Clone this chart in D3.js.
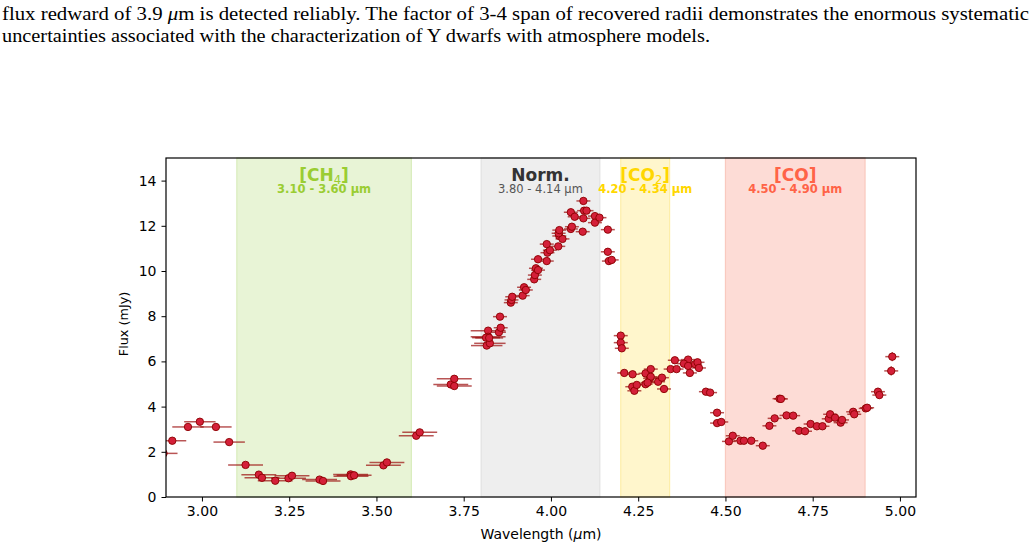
<!DOCTYPE html>
<html><head><meta charset="utf-8">
<script src="https://cdn.jsdelivr.net/npm/d3@7"></script>
<style>body{margin:0;background:#fff}svg{display:block}</style>
</head><body>
<script>
// ---- data ----
const wavelength = [2.89,2.915,2.96,2.994,3.04,3.078,3.125,3.163,3.172,3.21,3.248,3.258,3.337,3.347,3.426,3.427,3.436,3.52,3.53,3.614,3.624,
3.713,3.723,3.723,3.816,3.82,3.82,3.825,3.814,3.823,3.851,3.856,3.854,3.885,3.887,3.889,3.919,3.923,3.928,3.952,3.954,3.957,3.963,3.963,3.988,3.99,3.997,3.988,4.021,4.024,4.033,4.022,4.024,4.057,4.06,4.057,4.068,4.091,4.093,4.093,4.095,4.102,4.126,4.126,4.139,4.163,4.163,4.166,4.174,
4.2,4.2,4.203,4.21,4.234,4.233,4.239,4.246,4.271,4.286,4.284,4.286,4.271,4.277,4.307,4.318,4.324,4.343,4.36,4.355,4.393,4.381,4.393,4.398,4.413,4.42,4.424,4.444,4.456,4.476,4.476,4.488,
4.51,4.521,4.543,4.553,4.574,4.607,4.626,4.641,4.655,4.659,4.675,4.694,4.711,4.728,4.744,4.762,4.778,4.796,4.8,4.814,4.83,4.834,4.866,4.869,4.902,4.906,4.937,4.941,4.978,4.975];
const flux = [1.93,2.49,3.1,3.33,3.1,2.43,1.42,0.99,0.85,0.72,0.83,0.94,0.77,0.71,1.0,0.92,0.96,1.40,1.53,2.71,2.86,
4.98,4.91,5.23,6.7,7.36,7.09,6.8,7.05,7.04,7.29,7.49,7.98,8.6,8.72,8.86,8.91,9.28,9.16,9.63,9.82,10.12,10.04,10.52,10.44,10.81,10.92,11.19,11.09,11.55,11.42,11.67,11.81,11.86,11.96,12.6,12.4,11.74,12.33,13.1,12.67,12.67,12.43,12.14,12.36,11.83,10.85,10.44,10.49,
7.14,6.83,6.58,5.49,5.43,4.88,4.70,4.96,5.47,5.66,5.25,5.32,4.99,5.06,5.10,5.28,4.78,5.66,5.66,6.05,6.08,5.90,5.80,5.49,5.88,5.96,5.71,4.66,4.62,3.73,3.27,3.32,
2.46,2.71,2.49,2.49,2.49,2.27,3.15,3.48,4.35,4.34,3.61,3.6,2.93,2.91,3.23,3.13,3.13,3.46,3.66,3.51,3.29,3.41,3.77,3.66,3.92,3.95,4.66,4.51,6.21,5.58];
const xErr = [0.04,0.04,0.045,0.045,0.045,0.045,0.05,0.05,0.05,0.05,0.05,0.05,0.05,0.05,0.05,0.05,0.05,0.05,0.05,0.05,0.05,
0.05,0.05,0.05,0.045,0.05,0.05,0.045,0.04,0.04,0.02,0.02,0.02,0.02,0.02,0.02,0.02,0.02,0.02,0.02,0.02,0.02,0.02,0.02,0.02,0.02,0.02,0.02,0.02,0.02,0.02,0.02,0.02,0.02,0.02,0.02,0.02,0.02,0.02,0.02,0.02,0.02,0.02,0.02,0.02,0.02,0.02,0.02,0.02,
0.02,0.02,0.02,0.02,0.02,0.02,0.02,0.02,0.02,0.02,0.02,0.02,0.02,0.02,0.02,0.02,0.02,0.02,0.02,0.02,0.02,0.02,0.02,0.02,0.02,0.02,0.02,0.02,0.02,0.02,0.02,0.02,
0.02,0.02,0.02,0.02,0.02,0.02,0.02,0.02,0.02,0.02,0.02,0.02,0.02,0.02,0.02,0.02,0.02,0.02,0.02,0.02,0.02,0.02,0.02,0.02,0.02,0.02,0.02,0.02,0.02,0.02];
const yErr = [0.03,0.03,0.03,0.03,0.03,0.03,0.03,0.05,0.05,0.05,0.05,0.05,0.05,0.05,0.05,0.05,0.05,0.05,0.05,0.05,0.05,
0.05,0.05,0.05,0.1,0.1,0.1,0.1,0.1,0.1,0.15,0.15,0.15,0.15,0.15,0.15,0.15,0.15,0.15,0.15,0.15,0.15,0.15,0.15,0.15,0.15,0.15,0.15,0.15,0.15,0.15,0.15,0.15,0.15,0.15,0.15,0.15,0.15,0.15,0.15,0.15,0.15,0.15,0.15,0.15,0.15,0.15,0.15,0.15,
0.15,0.15,0.15,0.1,0.1,0.1,0.1,0.1,0.1,0.1,0.1,0.1,0.1,0.1,0.1,0.1,0.1,0.1,0.1,0.1,0.1,0.1,0.1,0.1,0.1,0.1,0.1,0.1,0.1,0.1,0.1,0.1,
0.1,0.1,0.1,0.1,0.1,0.1,0.1,0.1,0.1,0.1,0.1,0.1,0.1,0.1,0.1,0.1,0.1,0.1,0.1,0.1,0.1,0.1,0.1,0.1,0.1,0.1,0.15,0.15,0.2,0.2];

const bandNames = ["CH", "Norm.", "CO", "CO"];
const bandSubs = ["4", "", "2", ""];
const bandStart = [3.10, 3.80, 4.20, 4.50];
const bandEnd = [3.60, 4.14, 4.34, 4.90];
const bandRange = ["3.10 - 3.60 µm", "3.80 - 4.14 µm", "4.20 - 4.34 µm", "4.50 - 4.90 µm"];
const bandFill = ["#e8f4d6", "#eeeeee", "#fff6cc", "#fddcd6"];
const bandEdge = ["#d8ecbc", "#e2e2e2", "#fdeeaa", "#f9c9bf"];
const bandText = ["#9acd32", "#333333", "#ffd700", "#ff6347"];
const bandSubText = ["#9acd32", "#555555", "#ffd700", "#ff6347"];

const xTicks = [3.00, 3.25, 3.50, 3.75, 4.00, 4.25, 4.50, 4.75, 5.00];
const yTicks = [0, 2, 4, 6, 8, 10, 12, 14];

const caption1 = "flux redward of 3.9 ";
const caption1b = " is detected reliably.  The factor of 3-4 span of recovered radii demonstrates the enormous systematic";
const caption2 = "uncertainties associated with the characterization of Y dwarfs with atmosphere models.";

// ---- drawing ----
const W = 1034, H = 549;
const svg = d3.select("body").append("svg").attr("width", W).attr("height", H);
const L = 166, R = 916, T = 158, B = 497;
const x = d3.scaleLinear().domain([2.897, 5.046]).range([L, R]);
const y = d3.scaleLinear().domain([0, 15]).range([B, T]);

// caption
const cap = svg.append("g").attr("font-family", "'Liberation Serif','DejaVu Serif',serif").attr("font-size", 18).attr("fill", "#000");
const t1 = cap.append("text").attr("x", 2).attr("y", 20).attr("textLength", 1027).attr("lengthAdjust", "spacingAndGlyphs");
t1.append("tspan").text(caption1);
t1.append("tspan").attr("font-style", "italic").text("μ");
t1.append("tspan").text("m" + caption1b);
cap.append("text").attr("x", 2).attr("y", 42).attr("textLength", 708).attr("lengthAdjust", "spacingAndGlyphs").text(caption2);

svg.append("defs").append("clipPath").attr("id", "clip").append("rect")
  .attr("x", L).attr("y", T).attr("width", R - L).attr("height", B - T);

// bands
const bands = bandNames.map((n, i) => ({n, i}));
svg.append("g").selectAll("rect").data(bands).join("rect")
  .attr("x", d => x(bandStart[d.i])).attr("y", T)
  .attr("width", d => x(bandEnd[d.i]) - x(bandStart[d.i])).attr("height", B - T)
  .attr("fill", d => bandFill[d.i]).attr("stroke", d => bandEdge[d.i]).attr("stroke-width", 1.2);

// band labels
const bl = svg.append("g").attr("font-family", "'DejaVu Sans',sans-serif").attr("text-anchor", "middle");
bands.forEach(d => {
  const cx = x((bandStart[d.i] + bandEnd[d.i]) / 2);
  const t = bl.append("text").attr("x", cx).attr("y", 181).attr("font-size", 17).attr("font-weight", "bold").attr("fill", bandText[d.i]);
  if (d.n === "Norm.") {
    t.text("Norm.");
  } else {
    t.append("tspan").text("[" + d.n);
    if (bandSubs[d.i]) t.append("tspan").attr("font-size", 11.5).attr("font-weight", "normal").attr("dy", 3).text(bandSubs[d.i]);
    t.append("tspan").attr("dy", bandSubs[d.i] ? -3 : 0).text("]");
  }
  bl.append("text").attr("x", cx).attr("y", 192.5).attr("font-size", 11.5)
    .attr("font-weight", d.n === "Norm." ? "normal" : "bold").attr("fill", bandSubText[d.i]).text(bandRange[d.i]);
});

// data
const pts = wavelength.map((w, i) => ({w, f: flux[i], xe: xErr[i], ye: yErr[i]}));
const g = svg.append("g").attr("clip-path", "url(#clip)");
g.selectAll("line.xe").data(pts).join("line").attr("class", "xe")
  .attr("x1", d => x(d.w - d.xe)).attr("x2", d => x(d.w + d.xe))
  .attr("y1", d => y(d.f)).attr("y2", d => y(d.f))
  .attr("stroke", "#9b0d0d").attr("stroke-opacity", 0.7).attr("stroke-width", 1.5);
g.selectAll("line.ye").data(pts).join("line").attr("class", "ye")
  .attr("x1", d => x(d.w)).attr("x2", d => x(d.w))
  .attr("y1", d => y(d.f - d.ye)).attr("y2", d => y(d.f + d.ye))
  .attr("stroke", "#9b0d0d").attr("stroke-opacity", 0.7).attr("stroke-width", 1.5);
g.selectAll("circle").data(pts).join("circle")
  .attr("cx", d => x(d.w)).attr("cy", d => y(d.f)).attr("r", 3.7)
  .attr("fill", "#d42039").attr("stroke", "#8b0000").attr("stroke-width", 0.9);

// axes
const xAxis = svg.append("g").attr("transform", `translate(0,${B})`)
  .call(d3.axisBottom(x).tickValues(xTicks).tickFormat(d3.format(".2f")).tickSize(4.5).tickPadding(5));
const yAxis = svg.append("g").attr("transform", `translate(${L},0)`)
  .call(d3.axisLeft(y).tickValues(yTicks).tickFormat(d3.format("d")).tickSize(4.5).tickPadding(5));
[xAxis, yAxis].forEach(a => {
  a.selectAll("text").attr("font-family", "'DejaVu Sans',sans-serif").attr("font-size", 14).attr("fill", "#000");
  a.selectAll(".tick line").attr("stroke", "#000").attr("stroke-width", 1);
  a.select(".domain").remove();
});
svg.append("rect").attr("x", L).attr("y", T).attr("width", R - L).attr("height", B - T)
  .attr("fill", "none").attr("stroke", "#000").attr("stroke-width", 1.2);

const xl = svg.append("text").attr("x", (L + R) / 2).attr("y", 539).attr("text-anchor", "middle")
  .attr("font-family", "'DejaVu Sans',sans-serif").attr("font-size", 14);
xl.append("tspan").text("Wavelength (");
xl.append("tspan").attr("font-style", "italic").text("μ");
xl.append("tspan").text("m)");
svg.append("text").attr("transform", `translate(128,324) rotate(-90)`).attr("text-anchor", "middle")
  .attr("font-family", "'DejaVu Sans',sans-serif").attr("font-size", 12.8).text("Flux (mJy)");
</script>
</body></html>
